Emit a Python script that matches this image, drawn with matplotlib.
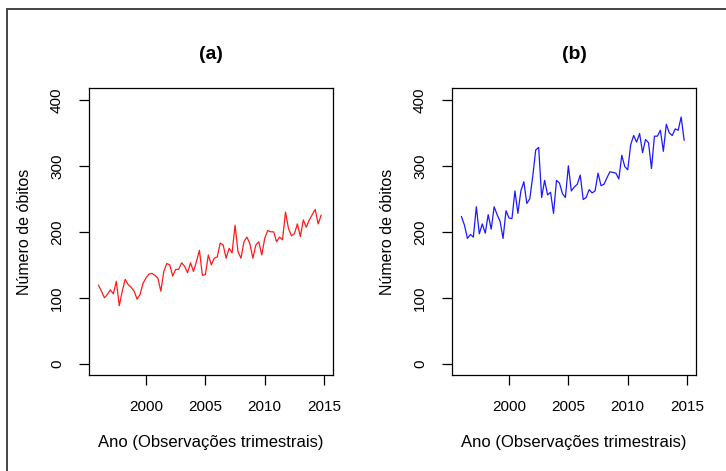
import numpy as np
import matplotlib
matplotlib.use('Agg')
import matplotlib.pyplot as plt
from matplotlib.patches import Rectangle

plt.rcParams['font.family'] = ['Liberation Sans', 'DejaVu Sans']

# Series trimestrais 1996T1 .. 2014T4
anos = 1996 + np.arange(76) * 0.25

obitos_a = [119, 110, 100, 105, 112, 106, 125, 88, 110, 128,
            120, 116, 110, 98, 105, 122, 130, 136, 137, 134,
            130, 110, 140, 152, 150, 133, 143, 143, 153, 148,
            138, 153, 140, 155, 172, 134, 135, 165, 150, 160,
            162, 183, 180, 160, 175, 168, 210, 170, 160, 185,
            192, 182, 160, 180, 185, 165, 190, 202, 200, 200,
            185, 192, 188, 230, 205, 194, 197, 212, 193, 218,
            207, 218, 226, 234, 212, 225]

obitos_b = [223, 210, 190, 196, 192, 238, 197, 212, 198, 226,
            204, 238, 226, 216, 190, 232, 221, 220, 262, 228,
            262, 276, 243, 250, 284, 324, 328, 252, 278, 256,
            260, 228, 278, 274, 258, 252, 300, 262, 268, 272,
            286, 249, 252, 264, 259, 262, 289, 270, 272, 282,
            291, 290, 289, 280, 316, 299, 294, 332, 346, 336,
            349, 320, 340, 335, 296, 345, 345, 354, 322, 363,
            350, 346, 356, 354, 374, 339]

titulos = ['(a)', '(b)']
cores = ['#ff1a1a', '#1a1aff']
series = [obitos_a, obitos_b]

fig = plt.figure(figsize=(7.26, 4.71), dpi=100)

# moldura externa
fig.patches.append(Rectangle((7 / 726, -0.2), 1.5, 1.2 - 9 / 471,
                             transform=fig.transFigure, fill=False,
                             edgecolor='#444444', linewidth=1.4))

esquerdas = [89 / 726, 452 / 726]
for k in range(2):
    ax = fig.add_axes([esquerdas[k], 1 - 375 / 471, 244 / 726, 287 / 471])
    ax.plot(anos, series[k], color=cores[k], linewidth=0.9)
    ax.set_xlim(1995.2, 2015.75)
    ax.set_ylim(-17, 418)
    ax.set_xticks([2000, 2005, 2010, 2015])
    ax.set_yticks([0, 100, 200, 300, 400])
    ax.set_yticklabels(['0', '100', '200', '300', '400'], rotation=90, va='center')
    ax.tick_params(direction='out', length=7, width=0.9, labelsize=11, pad=11)
    for s in ax.spines.values():
        s.set_linewidth(0.9)
    ax.set_xlabel('Ano (Observações trimestrais)', fontsize=12, labelpad=15)
    ax.set_ylabel('Número de óbitos', fontsize=11.5, labelpad=13)
    ax.set_title(titulos[k], fontsize=14, fontweight='bold', pad=21)

fig.savefig('out.png', dpi=100)
